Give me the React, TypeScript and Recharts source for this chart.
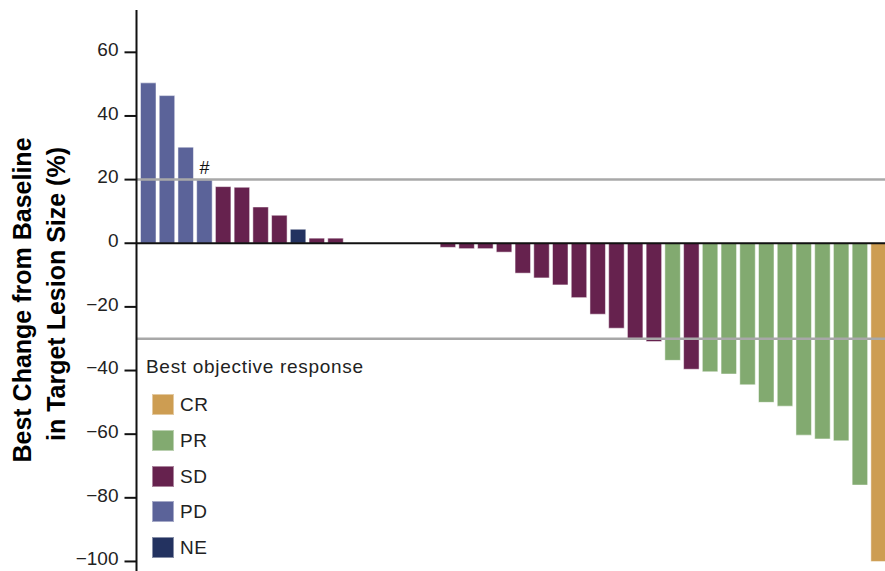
import React from 'react';
import { BarChart, Bar, XAxis, YAxis, Cell, ReferenceLine, Legend, Label, LabelList } from 'recharts';

// ---- data ----
const patients: string[] = Array.from({ length: 40 }, (_, i) => `P${i + 1}`);
const changes: number[] = [
  50.4, 46.4, 30.2, 19.9, 17.8, 17.6, 11.4, 8.8, 4.4, 1.6, 1.6,
  0, 0, 0, 0, 0,
  -1.3, -1.7, -1.7, -2.8, -9.4, -10.9, -13.1, -17.1, -22.3, -26.7, -29.9, -30.9,
  -36.8, -39.6, -40.4, -41.1, -44.5, -50.0, -51.2, -60.3, -61.5, -62.1, -76.0, -100,
];
const responses: string[] = [
  'PD', 'PD', 'PD', 'PD', 'SD', 'SD', 'SD', 'SD', 'NE', 'SD', 'SD',
  'SD', 'SD', 'SD', 'SD', 'SD',
  'SD', 'SD', 'SD', 'SD', 'SD', 'SD', 'SD', 'SD', 'SD', 'SD', 'SD', 'SD',
  'PR', 'SD', 'PR', 'PR', 'PR', 'PR', 'PR', 'PR', 'PR', 'PR', 'PR', 'CR',
];
const notes: string[] = changes.map((_, i) => (i === 3 ? '#' : ''));
const yTicks: number[] = [60, 40, 20, 0, -20, -40, -60, -80, -100];
const thresholds: number[] = [20, -30];
const legendItems: string[] = ['CR', 'PR', 'SD', 'PD', 'NE'];
const legendTitle = 'Best objective response';
const yLabelLines: string[] = ['Best Change from Baseline', 'in Target Lesion Size (%)'];

const colors: Record<string, string> = {
  CR: '#cd9d52',
  PR: '#82aa70',
  SD: '#66224e',
  PD: '#5b6399',
  NE: '#233260',
};

const data = patients.map((p, i) => ({ id: p, value: changes[i], resp: responses[i], note: notes[i] }));

const FONT = "'Liberation Sans', Arial, Helvetica, sans-serif";

const fmt = (v: number) => (v < 0 ? `\u2212${Math.abs(v)}` : `${v}`);

const YTick = (props: any) => {
  const { x, y, payload } = props;
  return (
    <text x={x} y={y - 3} dy="0.355em" textAnchor="end" fill="#222" fontSize={19} fontFamily={FONT}>
      {fmt(payload.value)}
    </text>
  );
};

const YLabel = () => (
  <g>
    <text
      transform="translate(31, 300) rotate(-90)"
      textAnchor="middle"
      fontSize={25}
      fontWeight="bold"
      fontFamily={FONT}
      fill="#000"
    >
      {yLabelLines[0]}
    </text>
    <text
      transform="translate(65, 294) rotate(-90)"
      textAnchor="middle"
      fontSize={25}
      fontWeight="bold"
      fontFamily={FONT}
      fill="#000"
    >
      {yLabelLines[1]}
    </text>
  </g>
);

const renderLegend = () => (
  <div style={{ position: 'relative', width: 250, height: 220, fontFamily: FONT, color: '#222' }}>
    <div style={{ position: 'absolute', left: 0, top: 0, fontSize: 19, lineHeight: '22px', letterSpacing: 0.7, whiteSpace: 'nowrap' }}>
      {legendTitle}
    </div>
    {legendItems.map((k, i) => (
      <React.Fragment key={k}>
        <div
          style={{
            position: 'absolute',
            left: 6,
            top: 38 + i * 35.75,
            width: 22,
            height: 21,
            background: colors[k],
            boxSizing: 'border-box',
            border: '1px solid rgba(255,255,255,0.45)',
          }}
        />
        <div style={{ position: 'absolute', left: 34, top: 38 + i * 35.75, height: 21, lineHeight: '21px', fontSize: 19, letterSpacing: 0.5 }}>
          {k}
        </div>
      </React.Fragment>
    ))}
  </div>
);

const NoteLabel = (props: any) => {
  const { x, y, width, value } = props;
  if (!value) return null;
  return (
    <text x={x + width / 2} y={y - 6} textAnchor="middle" fontSize={18} fontFamily={FONT} fill="#111">
      {value}
    </text>
  );
};

export default function App() {
  return (
    <div style={{ position: 'absolute', left: 0, top: 0, width: 885, height: 571, overflow: 'hidden', background: '#fff' }}>
      <BarChart
        width={900}
        height={571}
        data={data}
        margin={{ top: 10, right: 12.4, bottom: 0, left: 0 }}
        barSize={15.5}
      >
        <XAxis dataKey="id" hide padding={{ left: 2, right: 0 }} />
        <YAxis
          width={136.5}
          domain={[-103, 73.3]}
          ticks={yTicks}
          interval={0}
          allowDataOverflow
          tick={<YTick />}
          tickSize={12}
          tickMargin={6}
          tickLine={{ stroke: '#111', strokeWidth: 2 }}
          axisLine={{ stroke: '#111', strokeWidth: 2 }}
        >
          <Label content={<YLabel />} />
        </YAxis>
        <Bar dataKey="value" isAnimationActive={false} stroke="rgba(255,255,255,0.5)" strokeWidth={1}>
          {data.map((d) => (
            <Cell key={d.id} fill={colors[d.resp]} />
          ))}
          <LabelList dataKey="note" content={<NoteLabel />} />
        </Bar>
        {thresholds.map((t) => (
          <ReferenceLine key={t} y={t} stroke="#a8a8a8" strokeWidth={2.5} />
        ))}
        <ReferenceLine y={0} stroke="#111" strokeWidth={2} />
        <Legend
          content={renderLegend}
          layout="horizontal"
          verticalAlign="middle"
          align="center"
          wrapperStyle={{ position: 'absolute', left: 146, top: 356, width: 250, height: 220 }}
        />
      </BarChart>
    </div>
  );
}
